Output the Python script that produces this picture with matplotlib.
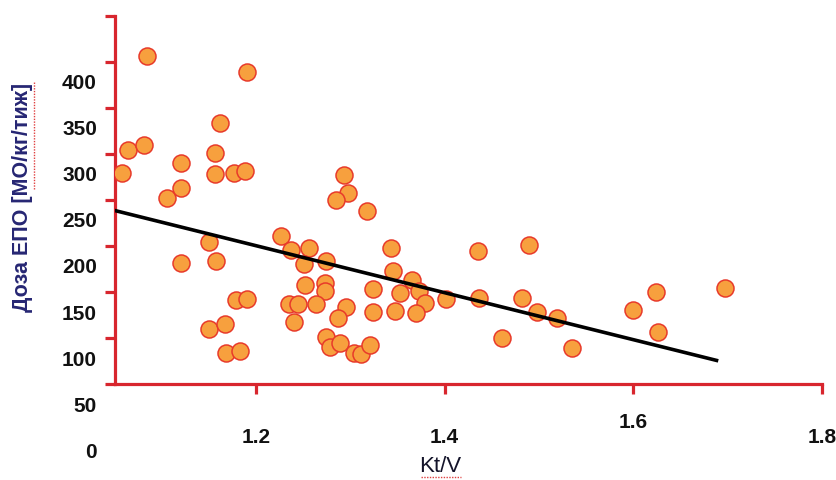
import numpy as np
import matplotlib
matplotlib.use('Agg')
import matplotlib.pyplot as plt
from matplotlib.lines import Line2D

# Kt/V against EPO dose, one point per patient
ktv = [1.085, 1.191, 1.162, 1.065, 1.082, 1.058, 1.157, 1.121, 1.157, 1.177,
       1.189, 1.106, 1.121, 1.293, 1.298, 1.285, 1.318, 1.151, 1.121, 1.158,
       1.227, 1.237, 1.256, 1.251, 1.274, 1.252, 1.273, 1.273, 1.179, 1.191,
       1.235, 1.245, 1.264, 1.296, 1.287, 1.324, 1.343, 1.345, 1.324, 1.348,
       1.353, 1.151, 1.167, 1.169, 1.183, 1.241, 1.274, 1.279, 1.289, 1.304,
       1.312, 1.321, 1.365, 1.373, 1.379, 1.370, 1.401, 1.435, 1.437, 1.489,
       1.482, 1.498, 1.519, 1.461, 1.535, 1.600, 1.624, 1.626, 1.697]
dose = [428, 411, 356, 326, 332, 302, 323, 312, 300, 302,
        304, 275, 285, 299, 280, 272, 260, 227, 204, 206,
        234, 218, 220, 203, 207, 180, 183, 174, 164, 165,
        160, 160, 160, 157, 145, 176, 220, 196, 151, 152,
        172, 133, 138, 107, 109, 140, 124, 113, 118, 107,
        106, 116, 186, 174, 161, 150, 165, 217, 166, 224,
        166, 151, 145, 123, 112, 154, 173, 130, 177]

# linear trend line
trend_x = [1.051, 1.688]
trend_y = [261, 99]

x_ticks = [1.2, 1.4, 1.6, 1.8]
y_labels = [0, 50, 100, 150, 200, 250, 300, 350, 400]

red = '#d8262e'
navy = '#262673'

plt.rcParams['font.family'] = ['Liberation Sans', 'DejaVu Sans']

fig = plt.figure(figsize=(8.37, 4.81), dpi=100)
ax = fig.add_axes([0.1374, 0.1996, 0.8450, 0.7657])

ax.scatter(ktv, dose, s=150, color='#f7a03e', edgecolors='#e83a2a',
           linewidths=1.1, zorder=3)
ax.plot(trend_x, trend_y, color='black', lw=2.6, zorder=4)

ax.set_xlim(1.051, 1.8)
ax.set_ylim(73.5, 471.7)

for side in ['top', 'right']:
    ax.spines[side].set_visible(False)
for side in ['left', 'bottom']:
    ax.spines[side].set_color(red)
    ax.spines[side].set_linewidth(2.3)
    ax.spines[side].set_capstyle('projecting')

ax.set_xticks(x_ticks)
ax.set_yticks(np.linspace(73.5, 471.7, 9))
ax.tick_params(axis='both', colors=red, width=2.3, length=7.5,
               labelleft=False, labelbottom=False)

# tick labels sit between the tick marks
for v in y_labels:
    ax.annotate(str(v), xy=(0, v), xycoords=('axes fraction', 'data'),
                xytext=(-13, 0), textcoords='offset points',
                ha='right', va='center', fontsize=15, fontweight='bold',
                color='#111111', annotation_clip=False)

x_offsets = [-38, -38, -27, -38]
for v, off in zip(x_ticks, x_offsets):
    ax.annotate(f'{v:.1f}', xy=(v, 0), xycoords=('data', 'axes fraction'),
                xytext=(0, off), textcoords='offset points',
                ha='center', va='center', fontsize=15, fontweight='bold',
                color='#111111', annotation_clip=False)

fig.text(440 / 837, 1 - 467 / 481, 'Kt/V', ha='center', va='center',
         fontsize=16, color='#14142a')
fig.text(23 / 837, 1 - 197 / 481, 'Доза ЕПО [МО/кг/тиж]', rotation=90,
         ha='center', va='center', fontsize=15.5, fontweight='bold', color=navy)

# spell-check squiggles under the axis captions
fig.add_artist(Line2D([34 / 837, 34 / 837], [1 - 190 / 481, 1 - 82 / 481],
                      color='#e04040', lw=1, ls=(0, (1, 1))))
fig.add_artist(Line2D([421 / 837, 461 / 837], [1 - 478 / 481, 1 - 478 / 481],
                      color='#e04040', lw=1, ls=(0, (1, 1))))

fig.savefig('out.png', dpi=100)
